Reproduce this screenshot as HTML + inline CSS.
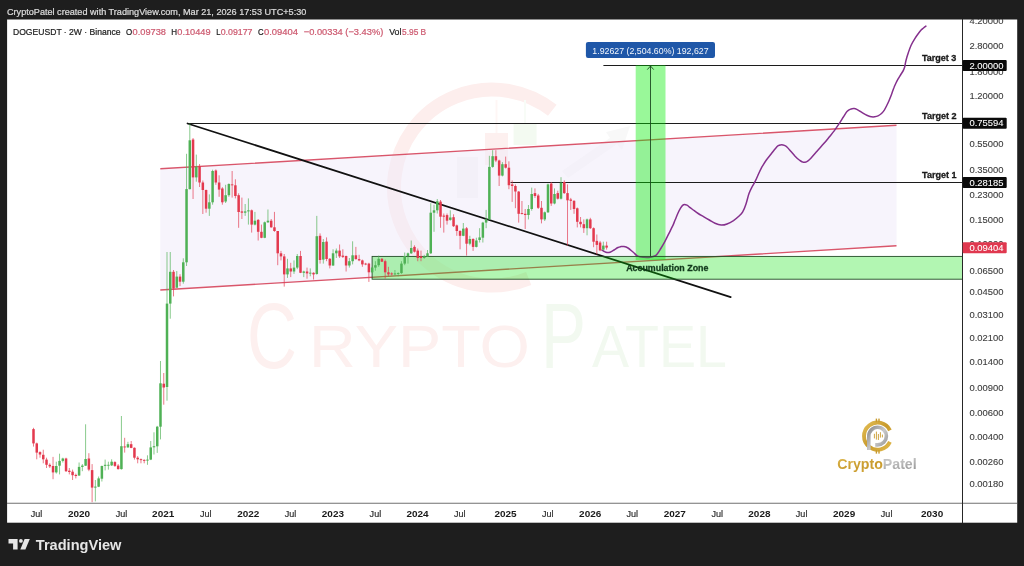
<!DOCTYPE html>
<html lang="en"><head><meta charset="utf-8"><title>DOGEUSDT 2W chart - CryptoPatel on TradingView</title>
<style>
html,body{margin:0;padding:0;background:#1e1e1e;}
body{width:1024px;height:566px;overflow:hidden;font-family:"Liberation Sans",sans-serif;}
svg{display:block;position:absolute;left:0;top:0;}
text{font-family:"Liberation Sans",sans-serif;}
</style></head><body>
<svg width="1024" height="566" viewBox="0 0 1024 566">
<defs>
<linearGradient id="gold" x1="0" y1="0" x2="1" y2="1"><stop offset="0" stop-color="#e2bd55"/><stop offset="0.5" stop-color="#c89a2c"/><stop offset="1" stop-color="#e0b84c"/></linearGradient>
<linearGradient id="silver" x1="0" y1="0" x2="1" y2="1"><stop offset="0" stop-color="#8c8c8c"/><stop offset="0.5" stop-color="#c9c9c9"/><stop offset="1" stop-color="#8f8f8f"/></linearGradient>
<clipPath id="plot"><rect x="7" y="19" width="955.5" height="484"/></clipPath>
<clipPath id="pax"><rect x="962" y="19" width="55" height="484"/></clipPath>
</defs>
<rect x="0" y="0" width="1024" height="566" fill="#1e1e1e"/>
<rect x="7.1" y="19.5" width="1010.1" height="503.2" fill="#ffffff"/>

<text x="7" y="15.2" font-size="8.8" fill="#dcdcdc" font-weight="normal" textLength="299.3" lengthAdjust="spacingAndGlyphs" stroke="#dcdcdc" stroke-width="0.22" >CryptoPatel created with TradingView.com, Mar 21, 2026 17:53 UTC+5:30</text>
<g id="watermark">
<path d="M 552.3 110.3 A 98 98 0 1 0 528.7 278.4" fill="none" stroke="#fdeeed" stroke-width="14"/>
<path d="M457 157h21v41h-21z" fill="#f6f6f6"/>
<path d="M485 133h23v32h-23z" fill="#fdf0ef"/><path d="M495.5 100h2v33h-2z" fill="#fef6f5"/>
<path d="M513.6 124h23v21h-23z" fill="#f3faf1"/><path d="M524 100h2v24h-2z" fill="#f8fcf7"/>
<path d="M562 171L610 138L606 132L630 126L622 150L617 144L568 178Z" fill="#f8f8f8"/>
<text x="247" y="367.5" font-size="92" fill="#fdf0ef" textLength="50" lengthAdjust="spacingAndGlyphs">C</text>
<text x="309" y="366.5" font-size="60" fill="#fdf0ef" textLength="221" lengthAdjust="spacingAndGlyphs">RYPTO</text>
<text x="541" y="367.5" font-size="92" fill="#f2f9f0" textLength="45" lengthAdjust="spacingAndGlyphs">P</text>
<text x="592" y="366.5" font-size="60" fill="#f2f9f0" textLength="135" lengthAdjust="spacingAndGlyphs">ATEL</text>
</g>
<g clip-path="url(#plot)">
<polygon points="160.3,168.8 896.5,125.3 896.5,245.8 160.3,290" fill="#efeaf9" fill-opacity="0.52"/>
<path d="M160.3 168.8L896.5 125.3M160.3 290L896.5 245.8" stroke="#d9566b" stroke-width="1.4" fill="none"/>
<path d="M187 123.5H962.5M510.5 182.5H962.5M603.4 65.5H962.5" stroke="#1c1c1c" stroke-width="1" fill="none"/>
<rect x="635.7" y="65.2" width="29.8" height="194.8" fill="#00ee00" fill-opacity="0.4"/>
<path d="M650.5 257.5V66M647.3 69.6L650.5 66L653.7 69.6" stroke="#1c4a20" stroke-width="0.9" fill="none"/>
<path d="M187.5 123.5L730.7 297.1" stroke="#111" stroke-width="1.75" fill="none" stroke-linecap="round"/>
<path d="M602.0 250.1C602.4 250.3 603.7 251.2 604.5 251.6C605.3 252.0 606.1 252.4 607.0 252.5C607.9 252.6 608.8 252.6 610.0 252.2C611.2 251.8 612.7 250.8 614.0 250.0C615.3 249.2 616.8 248.1 618.0 247.5C619.2 246.9 620.0 246.8 621.0 246.6C622.0 246.4 622.8 246.4 624.0 246.6C625.2 246.8 626.5 247.1 628.0 248.0C629.5 248.9 631.4 250.7 633.0 252.0C634.6 253.3 635.9 255.2 637.7 256.1C639.5 257.0 641.9 257.1 644.0 257.3C646.1 257.5 648.7 257.4 650.4 257.2C652.1 257.0 652.9 256.8 654.0 256.3C655.1 255.9 655.7 255.7 656.8 254.5C657.9 253.3 659.2 251.1 660.5 249.0C661.8 246.9 663.3 244.3 664.7 241.8C666.1 239.3 667.4 236.5 668.7 233.8C670.0 231.2 671.6 228.2 672.7 225.9C673.8 223.6 674.2 222.1 675.1 220.0C676.0 217.9 676.9 215.5 677.8 213.5C678.7 211.5 679.9 209.2 680.7 207.9C681.5 206.6 682.0 206.0 682.6 205.4C683.2 204.8 683.9 204.4 684.6 204.4C685.3 204.4 686.2 204.8 687.0 205.2C687.8 205.6 688.4 206.3 689.4 207.1C690.4 207.9 691.8 208.9 693.3 210.0C694.8 211.1 696.5 212.4 698.2 213.5C699.9 214.6 701.6 215.5 703.5 216.6C705.4 217.7 707.4 218.9 709.3 220.0C711.2 221.1 713.0 222.5 715.0 223.3C717.0 224.2 719.2 225.0 721.2 225.1C723.2 225.2 725.0 224.8 727.0 224.0C729.0 223.2 731.6 221.8 733.5 220.6C735.4 219.3 737.0 217.9 738.5 216.5C740.0 215.1 741.5 214.0 742.7 211.9C744.0 209.8 745.0 207.1 746.0 204.0C747.0 200.9 748.0 196.4 749.0 193.6C750.0 190.8 750.9 189.1 752.0 187.0C753.1 184.9 754.3 183.1 755.4 180.9C756.5 178.7 757.5 176.2 758.5 174.0C759.5 171.8 760.5 169.7 761.7 167.4C763.0 165.2 764.4 162.8 766.0 160.5C767.6 158.2 769.5 156.1 771.3 153.8C773.1 151.5 775.6 148.1 776.9 146.7C778.2 145.3 778.4 145.6 779.2 145.3C780.0 145.0 780.7 144.8 781.6 144.8C782.5 144.8 783.5 145.0 784.4 145.4C785.3 145.8 786.1 146.2 787.2 147.2C788.3 148.2 789.7 150.0 791.0 151.5C792.3 153.0 793.9 154.9 795.1 156.2C796.3 157.4 797.1 158.2 798.0 159.0C798.9 159.8 799.9 160.5 800.7 161.0C801.5 161.5 802.3 161.9 803.0 162.1C803.7 162.3 804.2 162.5 805.0 162.3C805.8 162.1 807.0 161.5 808.0 160.8C809.0 160.1 809.6 159.5 811.1 157.9C812.6 156.3 814.9 153.6 817.0 151.2C819.1 148.8 821.8 145.9 823.8 143.6C825.8 141.3 827.3 139.4 829.0 137.3C830.7 135.2 832.4 133.3 834.2 130.9C836.0 128.5 838.2 125.1 839.7 122.9C841.2 120.7 841.9 119.2 843.0 117.5C844.1 115.8 845.3 113.8 846.1 112.6C846.9 111.4 847.3 111.1 848.0 110.6C848.7 110.1 849.4 109.7 850.1 109.4C850.8 109.1 851.3 108.8 852.0 108.7C852.7 108.6 853.3 108.5 854.1 108.6C854.9 108.7 855.9 109.0 856.8 109.4C857.7 109.8 858.6 110.4 859.6 111.0C860.6 111.6 861.8 112.5 863.0 113.2C864.2 113.9 865.6 114.8 866.8 115.3C868.0 115.8 869.0 116.2 870.0 116.5C871.0 116.8 872.0 116.9 873.1 116.9C874.2 116.9 875.4 116.7 876.5 116.4C877.6 116.1 878.6 115.6 879.5 115.0C880.4 114.4 881.2 113.8 882.0 113.0C882.8 112.2 883.5 111.4 884.3 110.2C885.0 109.0 885.7 107.6 886.5 106.0C887.3 104.4 888.2 102.6 889.0 100.7C889.8 98.8 890.7 96.6 891.5 94.5C892.3 92.4 893.0 89.9 893.8 88.0C894.5 86.1 895.2 84.7 896.0 83.0C896.8 81.3 897.9 79.4 898.8 77.8C899.7 76.2 900.7 74.8 901.5 73.5C902.3 72.2 903.1 71.1 903.6 69.9C904.1 68.7 904.5 67.7 904.8 66.5C905.1 65.3 905.2 64.2 905.5 62.7C905.8 61.2 906.3 59.2 906.8 57.5C907.3 55.8 907.7 54.4 908.4 52.4C909.1 50.4 910.0 47.8 911.0 45.5C912.0 43.2 913.5 40.7 914.7 38.8C915.9 36.9 916.9 35.5 918.0 34.0C919.1 32.5 920.2 31.1 921.1 30.1C922.0 29.1 922.7 28.7 923.5 28.0C924.3 27.3 925.5 26.4 925.9 26.1" stroke="#85308d" stroke-width="1.5" fill="none" stroke-linecap="round" stroke-linejoin="round"/>
<rect x="372.1" y="256.4" width="590.4" height="22.8" fill="#00e000" fill-opacity="0.3" stroke="#234a26" stroke-width="0.9"/>
<path d="M33.50 427.8V446.6" stroke="#e3394e" stroke-width="0.8" stroke-opacity="0.85"/>
<rect x="32.25" y="429.1" width="2.5" height="14.3" fill="#e3394e"/>
<path d="M36.76 442.6V459.3" stroke="#e3394e" stroke-width="0.8" stroke-opacity="0.85"/>
<rect x="35.51" y="443.4" width="2.5" height="9.2" fill="#e3394e"/>
<path d="M40.01 451.3V457.7" stroke="#e3394e" stroke-width="0.8" stroke-opacity="0.85"/>
<rect x="38.76" y="452.1" width="2.5" height="2.4" fill="#e3394e"/>
<path d="M43.27 449.7V463.3" stroke="#e3394e" stroke-width="0.8" stroke-opacity="0.85"/>
<rect x="42.02" y="454.8" width="2.5" height="4.5" fill="#e3394e"/>
<path d="M46.52 457.7V468.0" stroke="#e3394e" stroke-width="0.8" stroke-opacity="0.85"/>
<rect x="45.27" y="459.6" width="2.5" height="5.2" fill="#e3394e"/>
<path d="M49.78 463.3V468.0" stroke="#e3394e" stroke-width="0.8" stroke-opacity="0.85"/>
<rect x="48.53" y="464.8" width="2.5" height="1.6" fill="#e3394e"/>
<path d="M53.04 456.9V479.2" stroke="#e3394e" stroke-width="0.8" stroke-opacity="0.85"/>
<rect x="51.79" y="466.0" width="2.5" height="6.4" fill="#e3394e"/>
<path d="M56.29 461.7V473.6" stroke="#4fb155" stroke-width="0.8" stroke-opacity="0.85"/>
<rect x="55.04" y="466.0" width="2.5" height="6.4" fill="#4fb155"/>
<path d="M59.55 453.7V474.4" stroke="#4fb155" stroke-width="0.8" stroke-opacity="0.85"/>
<rect x="58.30" y="460.9" width="2.5" height="4.8" fill="#4fb155"/>
<path d="M62.81 457.7V462.5" stroke="#4fb155" stroke-width="0.8" stroke-opacity="0.85"/>
<rect x="61.56" y="458.5" width="2.5" height="2.4" fill="#4fb155"/>
<path d="M66.06 457.7V472.0" stroke="#e3394e" stroke-width="0.8" stroke-opacity="0.85"/>
<rect x="64.81" y="458.5" width="2.5" height="12.7" fill="#e3394e"/>
<path d="M69.32 468.0V474.4" stroke="#e3394e" stroke-width="0.8" stroke-opacity="0.85"/>
<rect x="68.07" y="470.7" width="2.5" height="1.3" fill="#e3394e"/>
<path d="M72.58 469.6V480.0" stroke="#e3394e" stroke-width="0.8" stroke-opacity="0.85"/>
<rect x="71.33" y="471.7" width="2.5" height="3.5" fill="#e3394e"/>
<path d="M75.83 473.6V478.4" stroke="#e3394e" stroke-width="0.8" stroke-opacity="0.85"/>
<rect x="74.58" y="474.9" width="2.5" height="1.1" fill="#e3394e"/>
<path d="M79.09 462.5V476.0" stroke="#4fb155" stroke-width="0.8" stroke-opacity="0.85"/>
<rect x="77.84" y="466.9" width="2.5" height="8.6" fill="#4fb155"/>
<path d="M82.34 464.1V471.2" stroke="#4fb155" stroke-width="0.8" stroke-opacity="0.85"/>
<rect x="81.09" y="465.6" width="2.5" height="1.3" fill="#4fb155"/>
<path d="M85.60 424.3V466.0" stroke="#4fb155" stroke-width="0.8" stroke-opacity="0.85"/>
<rect x="84.35" y="459.0" width="2.5" height="6.7" fill="#4fb155"/>
<path d="M88.86 453.2V471.2" stroke="#e3394e" stroke-width="0.8" stroke-opacity="0.85"/>
<rect x="87.61" y="458.5" width="2.5" height="11.1" fill="#e3394e"/>
<path d="M92.11 464.1V502.2" stroke="#e3394e" stroke-width="0.8" stroke-opacity="0.85"/>
<rect x="90.86" y="470.1" width="2.5" height="17.5" fill="#e3394e"/>
<path d="M95.37 480.0V501.4" stroke="#4fb155" stroke-width="0.8" stroke-opacity="0.85"/>
<rect x="94.12" y="486.6" width="2.5" height="1.0" fill="#4fb155"/>
<path d="M98.62 476.5V487.1" stroke="#4fb155" stroke-width="0.8" stroke-opacity="0.85"/>
<rect x="97.38" y="478.4" width="2.5" height="8.3" fill="#4fb155"/>
<path d="M101.88 465.6V481.5" stroke="#4fb155" stroke-width="0.8" stroke-opacity="0.85"/>
<rect x="100.63" y="466.0" width="2.5" height="12.7" fill="#4fb155"/>
<path d="M105.14 459.6V470.4" stroke="#4fb155" stroke-width="0.8" stroke-opacity="0.85"/>
<rect x="103.89" y="464.8" width="2.5" height="1.1" fill="#4fb155"/>
<path d="M108.39 461.7V469.6" stroke="#4fb155" stroke-width="0.8" stroke-opacity="0.85"/>
<rect x="107.14" y="464.8" width="2.5" height="0.9" fill="#4fb155"/>
<path d="M111.65 459.3V466.0" stroke="#4fb155" stroke-width="0.8" stroke-opacity="0.85"/>
<rect x="110.40" y="461.7" width="2.5" height="3.7" fill="#4fb155"/>
<path d="M114.91 461.2V466.9" stroke="#e3394e" stroke-width="0.8" stroke-opacity="0.85"/>
<rect x="113.66" y="462.1" width="2.5" height="3.8" fill="#e3394e"/>
<path d="M118.16 464.1V469.6" stroke="#e3394e" stroke-width="0.8" stroke-opacity="0.85"/>
<rect x="116.91" y="465.6" width="2.5" height="3.5" fill="#e3394e"/>
<path d="M121.42 416.0V469.6" stroke="#4fb155" stroke-width="0.8" stroke-opacity="0.85"/>
<rect x="120.17" y="446.2" width="2.5" height="22.9" fill="#4fb155"/>
<path d="M124.67 437.8V452.6" stroke="#e3394e" stroke-width="0.8" stroke-opacity="0.85"/>
<rect x="123.42" y="446.5" width="2.5" height="0.9" fill="#e3394e"/>
<path d="M127.93 441.8V447.8" stroke="#4fb155" stroke-width="0.8" stroke-opacity="0.85"/>
<rect x="126.68" y="444.2" width="2.5" height="3.2" fill="#4fb155"/>
<path d="M131.19 441.0V448.2" stroke="#e3394e" stroke-width="0.8" stroke-opacity="0.85"/>
<rect x="129.94" y="444.2" width="2.5" height="3.7" fill="#e3394e"/>
<path d="M134.44 447.4V459.6" stroke="#e3394e" stroke-width="0.8" stroke-opacity="0.85"/>
<rect x="133.19" y="447.8" width="2.5" height="9.9" fill="#e3394e"/>
<path d="M137.70 456.1V463.3" stroke="#e3394e" stroke-width="0.8" stroke-opacity="0.85"/>
<rect x="136.45" y="457.7" width="2.5" height="1.6" fill="#e3394e"/>
<path d="M140.96 458.5V463.3" stroke="#e3394e" stroke-width="0.8" stroke-opacity="0.85"/>
<rect x="139.71" y="459.2" width="2.5" height="0.9" fill="#e3394e"/>
<path d="M144.21 459.3V463.3" stroke="#e3394e" stroke-width="0.8" stroke-opacity="0.85"/>
<rect x="142.96" y="459.9" width="2.5" height="0.9" fill="#e3394e"/>
<path d="M147.47 455.3V464.8" stroke="#4fb155" stroke-width="0.8" stroke-opacity="0.85"/>
<rect x="146.22" y="459.6" width="2.5" height="1.0" fill="#4fb155"/>
<path d="M150.73 441.0V460.1" stroke="#4fb155" stroke-width="0.8" stroke-opacity="0.85"/>
<rect x="149.48" y="447.4" width="2.5" height="12.2" fill="#4fb155"/>
<path d="M153.98 432.3V454.5" stroke="#4fb155" stroke-width="0.8" stroke-opacity="0.85"/>
<rect x="152.73" y="446.2" width="2.5" height="1.1" fill="#4fb155"/>
<path d="M157.24 425.9V452.9" stroke="#4fb155" stroke-width="0.8" stroke-opacity="0.85"/>
<rect x="155.99" y="426.7" width="2.5" height="19.6" fill="#4fb155"/>
<path d="M160.49 361.0V439.4" stroke="#4fb155" stroke-width="0.8" stroke-opacity="0.85"/>
<rect x="159.24" y="383.3" width="2.5" height="43.4" fill="#4fb155"/>
<path d="M163.75 373.0V404.7" stroke="#e3394e" stroke-width="0.8" stroke-opacity="0.85"/>
<rect x="162.50" y="383.7" width="2.5" height="3.8" fill="#e3394e"/>
<path d="M167.01 252.0V400.7" stroke="#4fb155" stroke-width="0.8" stroke-opacity="0.85"/>
<rect x="165.76" y="303.6" width="2.5" height="83.4" fill="#4fb155"/>
<path d="M170.26 252.0V318.7" stroke="#4fb155" stroke-width="0.8" stroke-opacity="0.85"/>
<rect x="169.01" y="271.8" width="2.5" height="31.8" fill="#4fb155"/>
<path d="M173.52 270.0V296.4" stroke="#e3394e" stroke-width="0.8" stroke-opacity="0.85"/>
<rect x="172.27" y="271.8" width="2.5" height="16.7" fill="#e3394e"/>
<path d="M176.78 271.0V287.7" stroke="#4fb155" stroke-width="0.8" stroke-opacity="0.85"/>
<rect x="175.53" y="276.6" width="2.5" height="11.1" fill="#4fb155"/>
<path d="M180.03 274.2V286.1" stroke="#e3394e" stroke-width="0.8" stroke-opacity="0.85"/>
<rect x="178.78" y="276.6" width="2.5" height="5.1" fill="#e3394e"/>
<path d="M183.29 258.3V283.7" stroke="#4fb155" stroke-width="0.8" stroke-opacity="0.85"/>
<rect x="182.04" y="262.3" width="2.5" height="19.4" fill="#4fb155"/>
<path d="M186.54 153.8V266.0" stroke="#4fb155" stroke-width="0.8" stroke-opacity="0.85"/>
<rect x="185.29" y="189.1" width="2.5" height="73.2" fill="#4fb155"/>
<path d="M189.80 123.5V189.5" stroke="#4fb155" stroke-width="0.8" stroke-opacity="0.85"/>
<rect x="188.55" y="140.3" width="2.5" height="48.8" fill="#4fb155"/>
<path d="M193.06 138.0V199.0" stroke="#e3394e" stroke-width="0.8" stroke-opacity="0.85"/>
<rect x="191.81" y="139.5" width="2.5" height="37.9" fill="#e3394e"/>
<path d="M196.31 154.6V181.7" stroke="#4fb155" stroke-width="0.8" stroke-opacity="0.85"/>
<rect x="195.06" y="166.6" width="2.5" height="10.8" fill="#4fb155"/>
<path d="M199.57 164.0V187.0" stroke="#e3394e" stroke-width="0.8" stroke-opacity="0.85"/>
<rect x="198.32" y="166.2" width="2.5" height="16.3" fill="#e3394e"/>
<path d="M202.83 180.5V214.0" stroke="#e3394e" stroke-width="0.8" stroke-opacity="0.85"/>
<rect x="201.58" y="182.5" width="2.5" height="7.5" fill="#e3394e"/>
<path d="M206.08 189.6V212.7" stroke="#e3394e" stroke-width="0.8" stroke-opacity="0.85"/>
<rect x="204.83" y="190.0" width="2.5" height="18.7" fill="#e3394e"/>
<path d="M209.34 194.4V215.9" stroke="#4fb155" stroke-width="0.8" stroke-opacity="0.85"/>
<rect x="208.09" y="202.3" width="2.5" height="6.4" fill="#4fb155"/>
<path d="M212.59 169.7V204.7" stroke="#4fb155" stroke-width="0.8" stroke-opacity="0.85"/>
<rect x="211.34" y="171.0" width="2.5" height="31.3" fill="#4fb155"/>
<path d="M215.85 169.4V184.8" stroke="#e3394e" stroke-width="0.8" stroke-opacity="0.85"/>
<rect x="214.60" y="170.5" width="2.5" height="12.0" fill="#e3394e"/>
<path d="M219.11 175.3V196.8" stroke="#e3394e" stroke-width="0.8" stroke-opacity="0.85"/>
<rect x="217.86" y="182.5" width="2.5" height="7.1" fill="#e3394e"/>
<path d="M222.36 187.2V204.7" stroke="#e3394e" stroke-width="0.8" stroke-opacity="0.85"/>
<rect x="221.11" y="188.5" width="2.5" height="13.8" fill="#e3394e"/>
<path d="M225.62 184.8V203.0" stroke="#4fb155" stroke-width="0.8" stroke-opacity="0.85"/>
<rect x="224.37" y="195.2" width="2.5" height="6.3" fill="#4fb155"/>
<path d="M228.88 183.3V196.8" stroke="#4fb155" stroke-width="0.8" stroke-opacity="0.85"/>
<rect x="227.62" y="184.0" width="2.5" height="11.2" fill="#4fb155"/>
<path d="M232.13 171.0V197.6" stroke="#e3394e" stroke-width="0.8" stroke-opacity="0.85"/>
<rect x="230.88" y="184.4" width="2.5" height="0.9" fill="#e3394e"/>
<path d="M235.39 179.3V198.4" stroke="#e3394e" stroke-width="0.8" stroke-opacity="0.85"/>
<rect x="234.14" y="185.3" width="2.5" height="10.7" fill="#e3394e"/>
<path d="M238.64 193.3V227.8" stroke="#e3394e" stroke-width="0.8" stroke-opacity="0.85"/>
<rect x="237.39" y="195.2" width="2.5" height="16.8" fill="#e3394e"/>
<path d="M241.90 197.6V219.0" stroke="#e3394e" stroke-width="0.8" stroke-opacity="0.85"/>
<rect x="240.65" y="211.4" width="2.5" height="1.3" fill="#e3394e"/>
<path d="M245.16 204.0V215.9" stroke="#4fb155" stroke-width="0.8" stroke-opacity="0.85"/>
<rect x="243.91" y="211.4" width="2.5" height="1.3" fill="#4fb155"/>
<path d="M248.41 198.4V224.6" stroke="#4fb155" stroke-width="0.8" stroke-opacity="0.85"/>
<rect x="247.16" y="210.3" width="2.5" height="1.1" fill="#4fb155"/>
<path d="M251.67 209.5V232.6" stroke="#e3394e" stroke-width="0.8" stroke-opacity="0.85"/>
<rect x="250.42" y="210.3" width="2.5" height="14.3" fill="#e3394e"/>
<path d="M254.93 211.9V225.4" stroke="#4fb155" stroke-width="0.8" stroke-opacity="0.85"/>
<rect x="253.68" y="220.7" width="2.5" height="3.9" fill="#4fb155"/>
<path d="M258.18 219.0V240.5" stroke="#e3394e" stroke-width="0.8" stroke-opacity="0.85"/>
<rect x="256.93" y="219.9" width="2.5" height="11.9" fill="#e3394e"/>
<path d="M261.44 224.6V238.2" stroke="#e3394e" stroke-width="0.8" stroke-opacity="0.85"/>
<rect x="260.19" y="231.8" width="2.5" height="6.0" fill="#e3394e"/>
<path d="M264.69 221.5V238.2" stroke="#4fb155" stroke-width="0.8" stroke-opacity="0.85"/>
<rect x="263.44" y="222.3" width="2.5" height="15.5" fill="#4fb155"/>
<path d="M267.95 209.5V223.0" stroke="#4fb155" stroke-width="0.8" stroke-opacity="0.85"/>
<rect x="266.70" y="220.7" width="2.5" height="1.6" fill="#4fb155"/>
<path d="M271.21 219.0V227.8" stroke="#e3394e" stroke-width="0.8" stroke-opacity="0.85"/>
<rect x="269.96" y="220.7" width="2.5" height="6.6" fill="#e3394e"/>
<path d="M274.46 211.9V231.8" stroke="#e3394e" stroke-width="0.8" stroke-opacity="0.85"/>
<rect x="273.21" y="227.3" width="2.5" height="3.7" fill="#e3394e"/>
<path d="M277.72 231.0V265.2" stroke="#e3394e" stroke-width="0.8" stroke-opacity="0.85"/>
<rect x="276.47" y="231.0" width="2.5" height="22.3" fill="#e3394e"/>
<path d="M280.98 250.9V260.4" stroke="#e3394e" stroke-width="0.8" stroke-opacity="0.85"/>
<rect x="279.73" y="253.3" width="2.5" height="3.1" fill="#e3394e"/>
<path d="M284.23 254.0V286.6" stroke="#e3394e" stroke-width="0.8" stroke-opacity="0.85"/>
<rect x="282.98" y="256.4" width="2.5" height="18.0" fill="#e3394e"/>
<path d="M287.49 258.8V277.9" stroke="#4fb155" stroke-width="0.8" stroke-opacity="0.85"/>
<rect x="286.24" y="268.4" width="2.5" height="6.0" fill="#4fb155"/>
<path d="M290.74 262.8V277.1" stroke="#e3394e" stroke-width="0.8" stroke-opacity="0.85"/>
<rect x="289.49" y="268.4" width="2.5" height="3.1" fill="#e3394e"/>
<path d="M294.00 260.4V273.9" stroke="#4fb155" stroke-width="0.8" stroke-opacity="0.85"/>
<rect x="292.75" y="267.6" width="2.5" height="3.9" fill="#4fb155"/>
<path d="M297.26 254.0V269.2" stroke="#4fb155" stroke-width="0.8" stroke-opacity="0.85"/>
<rect x="296.01" y="256.0" width="2.5" height="11.6" fill="#4fb155"/>
<path d="M300.51 250.9V273.1" stroke="#e3394e" stroke-width="0.8" stroke-opacity="0.85"/>
<rect x="299.26" y="256.0" width="2.5" height="16.8" fill="#e3394e"/>
<path d="M303.77 270.7V277.1" stroke="#4fb155" stroke-width="0.8" stroke-opacity="0.85"/>
<rect x="302.52" y="271.5" width="2.5" height="1.3" fill="#4fb155"/>
<path d="M307.03 267.6V278.7" stroke="#e3394e" stroke-width="0.8" stroke-opacity="0.85"/>
<rect x="305.78" y="271.5" width="2.5" height="1.9" fill="#e3394e"/>
<path d="M310.28 268.4V276.3" stroke="#4fb155" stroke-width="0.8" stroke-opacity="0.85"/>
<rect x="309.03" y="272.7" width="2.5" height="0.9" fill="#4fb155"/>
<path d="M313.54 272.3V279.5" stroke="#e3394e" stroke-width="0.8" stroke-opacity="0.85"/>
<rect x="312.29" y="272.8" width="2.5" height="1.6" fill="#e3394e"/>
<path d="M316.79 215.9V274.7" stroke="#4fb155" stroke-width="0.8" stroke-opacity="0.85"/>
<rect x="315.54" y="236.2" width="2.5" height="37.8" fill="#4fb155"/>
<path d="M320.05 233.4V263.6" stroke="#e3394e" stroke-width="0.8" stroke-opacity="0.85"/>
<rect x="318.80" y="235.8" width="2.5" height="24.2" fill="#e3394e"/>
<path d="M323.31 239.0V263.6" stroke="#4fb155" stroke-width="0.8" stroke-opacity="0.85"/>
<rect x="322.06" y="242.0" width="2.5" height="17.6" fill="#4fb155"/>
<path d="M326.56 237.4V261.2" stroke="#e3394e" stroke-width="0.8" stroke-opacity="0.85"/>
<rect x="325.31" y="241.6" width="2.5" height="17.4" fill="#e3394e"/>
<path d="M329.82 258.0V268.4" stroke="#e3394e" stroke-width="0.8" stroke-opacity="0.85"/>
<rect x="328.57" y="258.8" width="2.5" height="6.7" fill="#e3394e"/>
<path d="M333.07 249.3V266.0" stroke="#4fb155" stroke-width="0.8" stroke-opacity="0.85"/>
<rect x="331.82" y="253.3" width="2.5" height="12.2" fill="#4fb155"/>
<path d="M336.33 248.5V258.0" stroke="#4fb155" stroke-width="0.8" stroke-opacity="0.85"/>
<rect x="335.08" y="250.6" width="2.5" height="2.7" fill="#4fb155"/>
<path d="M339.59 244.5V258.0" stroke="#e3394e" stroke-width="0.8" stroke-opacity="0.85"/>
<rect x="338.34" y="250.6" width="2.5" height="5.8" fill="#e3394e"/>
<path d="M342.84 249.3V258.0" stroke="#e3394e" stroke-width="0.8" stroke-opacity="0.85"/>
<rect x="341.59" y="255.6" width="2.5" height="1.3" fill="#e3394e"/>
<path d="M346.10 255.6V271.5" stroke="#e3394e" stroke-width="0.8" stroke-opacity="0.85"/>
<rect x="344.85" y="256.0" width="2.5" height="9.5" fill="#e3394e"/>
<path d="M349.36 258.0V267.6" stroke="#4fb155" stroke-width="0.8" stroke-opacity="0.85"/>
<rect x="348.11" y="261.2" width="2.5" height="4.3" fill="#4fb155"/>
<path d="M352.61 241.3V264.4" stroke="#4fb155" stroke-width="0.8" stroke-opacity="0.85"/>
<rect x="351.36" y="255.3" width="2.5" height="5.9" fill="#4fb155"/>
<path d="M355.87 246.9V259.6" stroke="#e3394e" stroke-width="0.8" stroke-opacity="0.85"/>
<rect x="354.62" y="255.3" width="2.5" height="3.8" fill="#e3394e"/>
<path d="M359.12 254.8V261.2" stroke="#e3394e" stroke-width="0.8" stroke-opacity="0.85"/>
<rect x="357.88" y="259.1" width="2.5" height="1.3" fill="#e3394e"/>
<path d="M362.38 259.6V266.8" stroke="#e3394e" stroke-width="0.8" stroke-opacity="0.85"/>
<rect x="361.13" y="260.4" width="2.5" height="4.0" fill="#e3394e"/>
<path d="M365.64 262.8V265.2" stroke="#e3394e" stroke-width="0.8" stroke-opacity="0.85"/>
<rect x="364.39" y="263.6" width="2.5" height="0.9" fill="#e3394e"/>
<path d="M368.89 262.8V281.9" stroke="#e3394e" stroke-width="0.8" stroke-opacity="0.85"/>
<rect x="367.64" y="263.6" width="2.5" height="8.7" fill="#e3394e"/>
<path d="M372.15 266.8V273.1" stroke="#4fb155" stroke-width="0.8" stroke-opacity="0.85"/>
<rect x="370.90" y="267.6" width="2.5" height="4.7" fill="#4fb155"/>
<path d="M375.41 261.2V270.7" stroke="#4fb155" stroke-width="0.8" stroke-opacity="0.85"/>
<rect x="374.16" y="265.2" width="2.5" height="2.4" fill="#4fb155"/>
<path d="M378.66 255.6V266.8" stroke="#4fb155" stroke-width="0.8" stroke-opacity="0.85"/>
<rect x="377.41" y="258.8" width="2.5" height="6.4" fill="#4fb155"/>
<path d="M381.92 258.0V262.0" stroke="#e3394e" stroke-width="0.8" stroke-opacity="0.85"/>
<rect x="380.67" y="258.8" width="2.5" height="2.9" fill="#e3394e"/>
<path d="M385.18 259.6V278.7" stroke="#e3394e" stroke-width="0.8" stroke-opacity="0.85"/>
<rect x="383.93" y="261.2" width="2.5" height="11.1" fill="#e3394e"/>
<path d="M388.43 266.8V276.0" stroke="#e3394e" stroke-width="0.8" stroke-opacity="0.85"/>
<rect x="387.18" y="272.3" width="2.5" height="2.1" fill="#e3394e"/>
<path d="M391.69 272.3V275.5" stroke="#e3394e" stroke-width="0.8" stroke-opacity="0.85"/>
<rect x="390.44" y="273.4" width="2.5" height="1.0" fill="#e3394e"/>
<path d="M394.94 270.0V275.5" stroke="#4fb155" stroke-width="0.8" stroke-opacity="0.85"/>
<rect x="393.69" y="273.4" width="2.5" height="1.0" fill="#4fb155"/>
<path d="M398.20 272.3V276.3" stroke="#4fb155" stroke-width="0.8" stroke-opacity="0.85"/>
<rect x="396.95" y="273.1" width="2.5" height="0.9" fill="#4fb155"/>
<path d="M401.46 261.2V273.9" stroke="#4fb155" stroke-width="0.8" stroke-opacity="0.85"/>
<rect x="400.21" y="263.6" width="2.5" height="9.5" fill="#4fb155"/>
<path d="M404.71 252.5V265.2" stroke="#4fb155" stroke-width="0.8" stroke-opacity="0.85"/>
<rect x="403.46" y="256.0" width="2.5" height="7.6" fill="#4fb155"/>
<path d="M407.97 252.5V263.6" stroke="#4fb155" stroke-width="0.8" stroke-opacity="0.85"/>
<rect x="406.72" y="253.3" width="2.5" height="2.7" fill="#4fb155"/>
<path d="M411.23 240.5V254.0" stroke="#4fb155" stroke-width="0.8" stroke-opacity="0.85"/>
<rect x="409.98" y="248.0" width="2.5" height="5.3" fill="#4fb155"/>
<path d="M414.48 245.3V252.5" stroke="#e3394e" stroke-width="0.8" stroke-opacity="0.85"/>
<rect x="413.23" y="246.9" width="2.5" height="4.8" fill="#e3394e"/>
<path d="M417.74 248.5V261.2" stroke="#e3394e" stroke-width="0.8" stroke-opacity="0.85"/>
<rect x="416.49" y="250.6" width="2.5" height="7.4" fill="#e3394e"/>
<path d="M420.99 250.6V261.2" stroke="#e3394e" stroke-width="0.8" stroke-opacity="0.85"/>
<rect x="419.74" y="256.4" width="2.5" height="1.6" fill="#e3394e"/>
<path d="M424.25 254.8V258.8" stroke="#4fb155" stroke-width="0.8" stroke-opacity="0.85"/>
<rect x="423.00" y="256.4" width="2.5" height="1.6" fill="#4fb155"/>
<path d="M427.51 250.0V256.9" stroke="#4fb155" stroke-width="0.8" stroke-opacity="0.85"/>
<rect x="426.26" y="253.3" width="2.5" height="3.1" fill="#4fb155"/>
<path d="M430.76 203.2V254.0" stroke="#4fb155" stroke-width="0.8" stroke-opacity="0.85"/>
<rect x="429.51" y="212.7" width="2.5" height="40.6" fill="#4fb155"/>
<path d="M434.02 204.8V231.8" stroke="#4fb155" stroke-width="0.8" stroke-opacity="0.85"/>
<rect x="432.77" y="210.3" width="2.5" height="2.4" fill="#4fb155"/>
<path d="M437.28 199.0V213.5" stroke="#4fb155" stroke-width="0.8" stroke-opacity="0.85"/>
<rect x="436.03" y="201.3" width="2.5" height="9.0" fill="#4fb155"/>
<path d="M440.53 200.0V227.8" stroke="#e3394e" stroke-width="0.8" stroke-opacity="0.85"/>
<rect x="439.28" y="201.6" width="2.5" height="15.1" fill="#e3394e"/>
<path d="M443.79 213.5V232.6" stroke="#e3394e" stroke-width="0.8" stroke-opacity="0.85"/>
<rect x="442.54" y="215.6" width="2.5" height="1.1" fill="#e3394e"/>
<path d="M447.04 213.5V224.6" stroke="#e3394e" stroke-width="0.8" stroke-opacity="0.85"/>
<rect x="445.79" y="215.1" width="2.5" height="5.6" fill="#e3394e"/>
<path d="M450.30 210.3V220.7" stroke="#4fb155" stroke-width="0.8" stroke-opacity="0.85"/>
<rect x="449.05" y="217.5" width="2.5" height="2.4" fill="#4fb155"/>
<path d="M453.56 214.3V227.0" stroke="#e3394e" stroke-width="0.8" stroke-opacity="0.85"/>
<rect x="452.31" y="217.2" width="2.5" height="9.0" fill="#e3394e"/>
<path d="M456.81 224.6V235.8" stroke="#e3394e" stroke-width="0.8" stroke-opacity="0.85"/>
<rect x="455.56" y="225.4" width="2.5" height="5.6" fill="#e3394e"/>
<path d="M460.07 230.2V249.3" stroke="#e3394e" stroke-width="0.8" stroke-opacity="0.85"/>
<rect x="458.82" y="231.0" width="2.5" height="4.8" fill="#e3394e"/>
<path d="M463.32 223.0V236.2" stroke="#4fb155" stroke-width="0.8" stroke-opacity="0.85"/>
<rect x="462.07" y="228.6" width="2.5" height="7.2" fill="#4fb155"/>
<path d="M466.58 227.0V255.6" stroke="#e3394e" stroke-width="0.8" stroke-opacity="0.85"/>
<rect x="465.33" y="228.3" width="2.5" height="15.4" fill="#e3394e"/>
<path d="M469.84 235.8V245.3" stroke="#4fb155" stroke-width="0.8" stroke-opacity="0.85"/>
<rect x="468.59" y="239.0" width="2.5" height="4.7" fill="#4fb155"/>
<path d="M473.09 238.2V250.9" stroke="#e3394e" stroke-width="0.8" stroke-opacity="0.85"/>
<rect x="471.84" y="239.0" width="2.5" height="7.9" fill="#e3394e"/>
<path d="M476.35 237.7V247.4" stroke="#4fb155" stroke-width="0.8" stroke-opacity="0.85"/>
<rect x="475.10" y="240.5" width="2.5" height="6.4" fill="#4fb155"/>
<path d="M479.61 228.2V242.5" stroke="#4fb155" stroke-width="0.8" stroke-opacity="0.85"/>
<rect x="478.36" y="237.4" width="2.5" height="2.6" fill="#4fb155"/>
<path d="M482.86 221.8V242.5" stroke="#4fb155" stroke-width="0.8" stroke-opacity="0.85"/>
<rect x="481.61" y="222.6" width="2.5" height="15.1" fill="#4fb155"/>
<path d="M486.12 209.9V228.2" stroke="#4fb155" stroke-width="0.8" stroke-opacity="0.85"/>
<rect x="484.87" y="219.4" width="2.5" height="3.2" fill="#4fb155"/>
<path d="M489.38 155.8V220.0" stroke="#4fb155" stroke-width="0.8" stroke-opacity="0.85"/>
<rect x="488.12" y="166.9" width="2.5" height="52.5" fill="#4fb155"/>
<path d="M492.63 150.2V167.7" stroke="#4fb155" stroke-width="0.8" stroke-opacity="0.85"/>
<rect x="491.38" y="156.2" width="2.5" height="10.7" fill="#4fb155"/>
<path d="M495.89 150.2V162.1" stroke="#e3394e" stroke-width="0.8" stroke-opacity="0.85"/>
<rect x="494.64" y="156.2" width="2.5" height="4.3" fill="#e3394e"/>
<path d="M499.14 159.7V186.0" stroke="#e3394e" stroke-width="0.8" stroke-opacity="0.85"/>
<rect x="497.89" y="160.5" width="2.5" height="15.1" fill="#e3394e"/>
<path d="M502.40 162.1V176.4" stroke="#4fb155" stroke-width="0.8" stroke-opacity="0.85"/>
<rect x="501.15" y="164.2" width="2.5" height="11.4" fill="#4fb155"/>
<path d="M505.66 156.6V168.5" stroke="#e3394e" stroke-width="0.8" stroke-opacity="0.85"/>
<rect x="504.41" y="164.2" width="2.5" height="3.5" fill="#e3394e"/>
<path d="M508.91 161.3V189.2" stroke="#e3394e" stroke-width="0.8" stroke-opacity="0.85"/>
<rect x="507.66" y="167.7" width="2.5" height="17.5" fill="#e3394e"/>
<path d="M512.17 180.4V201.9" stroke="#e3394e" stroke-width="0.8" stroke-opacity="0.85"/>
<rect x="510.92" y="184.4" width="2.5" height="1.6" fill="#e3394e"/>
<path d="M515.42 184.4V208.2" stroke="#e3394e" stroke-width="0.8" stroke-opacity="0.85"/>
<rect x="514.17" y="186.0" width="2.5" height="5.5" fill="#e3394e"/>
<path d="M518.68 191.0V222.6" stroke="#e3394e" stroke-width="0.8" stroke-opacity="0.85"/>
<rect x="517.43" y="191.6" width="2.5" height="22.2" fill="#e3394e"/>
<path d="M521.94 201.0V214.5" stroke="#e3394e" stroke-width="0.8" stroke-opacity="0.85"/>
<rect x="520.69" y="213.0" width="2.5" height="0.9" fill="#e3394e"/>
<path d="M525.19 209.0V229.0" stroke="#e3394e" stroke-width="0.8" stroke-opacity="0.85"/>
<rect x="523.94" y="213.8" width="2.5" height="1.2" fill="#e3394e"/>
<path d="M528.45 205.0V219.4" stroke="#4fb155" stroke-width="0.8" stroke-opacity="0.85"/>
<rect x="527.20" y="209.0" width="2.5" height="6.0" fill="#4fb155"/>
<path d="M531.71 187.6V210.7" stroke="#4fb155" stroke-width="0.8" stroke-opacity="0.85"/>
<rect x="530.46" y="194.0" width="2.5" height="15.0" fill="#4fb155"/>
<path d="M534.96 188.4V197.9" stroke="#e3394e" stroke-width="0.8" stroke-opacity="0.85"/>
<rect x="533.71" y="193.1" width="2.5" height="2.9" fill="#e3394e"/>
<path d="M538.22 193.9V209.0" stroke="#e3394e" stroke-width="0.8" stroke-opacity="0.85"/>
<rect x="536.97" y="195.5" width="2.5" height="12.3" fill="#e3394e"/>
<path d="M541.48 201.0V223.4" stroke="#e3394e" stroke-width="0.8" stroke-opacity="0.85"/>
<rect x="540.23" y="207.8" width="2.5" height="11.6" fill="#e3394e"/>
<path d="M544.73 211.5V221.0" stroke="#4fb155" stroke-width="0.8" stroke-opacity="0.85"/>
<rect x="543.48" y="212.3" width="2.5" height="7.1" fill="#4fb155"/>
<path d="M547.99 183.6V213.0" stroke="#4fb155" stroke-width="0.8" stroke-opacity="0.85"/>
<rect x="546.74" y="184.4" width="2.5" height="27.9" fill="#4fb155"/>
<path d="M551.24 182.0V205.9" stroke="#e3394e" stroke-width="0.8" stroke-opacity="0.85"/>
<rect x="549.99" y="183.6" width="2.5" height="19.9" fill="#e3394e"/>
<path d="M554.50 188.4V204.3" stroke="#4fb155" stroke-width="0.8" stroke-opacity="0.85"/>
<rect x="553.25" y="194.0" width="2.5" height="9.5" fill="#4fb155"/>
<path d="M557.76 190.7V199.5" stroke="#e3394e" stroke-width="0.8" stroke-opacity="0.85"/>
<rect x="556.51" y="193.1" width="2.5" height="5.6" fill="#e3394e"/>
<path d="M561.01 177.2V199.5" stroke="#4fb155" stroke-width="0.8" stroke-opacity="0.85"/>
<rect x="559.76" y="182.8" width="2.5" height="15.9" fill="#4fb155"/>
<path d="M564.27 180.4V194.0" stroke="#e3394e" stroke-width="0.8" stroke-opacity="0.85"/>
<rect x="563.02" y="182.0" width="2.5" height="11.1" fill="#e3394e"/>
<path d="M567.52 184.4V245.6" stroke="#e3394e" stroke-width="0.8" stroke-opacity="0.85"/>
<rect x="566.27" y="193.1" width="2.5" height="7.2" fill="#e3394e"/>
<path d="M570.78 197.9V209.9" stroke="#e3394e" stroke-width="0.8" stroke-opacity="0.85"/>
<rect x="569.53" y="199.5" width="2.5" height="1.3" fill="#e3394e"/>
<path d="M574.04 200.3V213.8" stroke="#e3394e" stroke-width="0.8" stroke-opacity="0.85"/>
<rect x="572.79" y="200.8" width="2.5" height="8.2" fill="#e3394e"/>
<path d="M577.29 207.5V227.4" stroke="#e3394e" stroke-width="0.8" stroke-opacity="0.85"/>
<rect x="576.04" y="208.3" width="2.5" height="13.5" fill="#e3394e"/>
<path d="M580.55 217.0V227.4" stroke="#e3394e" stroke-width="0.8" stroke-opacity="0.85"/>
<rect x="579.30" y="221.8" width="2.5" height="2.4" fill="#e3394e"/>
<path d="M583.81 219.4V232.9" stroke="#e3394e" stroke-width="0.8" stroke-opacity="0.85"/>
<rect x="582.56" y="224.2" width="2.5" height="4.0" fill="#e3394e"/>
<path d="M587.06 218.6V235.3" stroke="#4fb155" stroke-width="0.8" stroke-opacity="0.85"/>
<rect x="585.81" y="219.4" width="2.5" height="8.8" fill="#4fb155"/>
<path d="M590.32 217.8V229.0" stroke="#e3394e" stroke-width="0.8" stroke-opacity="0.85"/>
<rect x="589.07" y="219.4" width="2.5" height="8.8" fill="#e3394e"/>
<path d="M593.58 227.4V247.2" stroke="#e3394e" stroke-width="0.8" stroke-opacity="0.85"/>
<rect x="592.33" y="228.2" width="2.5" height="13.5" fill="#e3394e"/>
<path d="M596.83 234.5V254.4" stroke="#e3394e" stroke-width="0.8" stroke-opacity="0.85"/>
<rect x="595.58" y="240.9" width="2.5" height="4.0" fill="#e3394e"/>
<path d="M600.09 240.9V251.2" stroke="#e3394e" stroke-width="0.8" stroke-opacity="0.85"/>
<rect x="598.84" y="242.5" width="2.5" height="7.9" fill="#e3394e"/>
<path d="M603.34 241.7V250.4" stroke="#4fb155" stroke-width="0.8" stroke-opacity="0.85"/>
<rect x="602.09" y="245.6" width="2.5" height="4.0" fill="#4fb155"/>
<path d="M606.60 241.7V249.6" stroke="#e3394e" stroke-width="0.8" stroke-opacity="0.85"/>
<rect x="605.35" y="245.6" width="2.5" height="2.0" fill="#e3394e"/>
</g>
<text x="626.2" y="271.2" font-size="9" fill="#123a1c" font-weight="bold" textLength="82.2" lengthAdjust="spacingAndGlyphs" stroke="#123a1c" stroke-width="0.3" >Accumulation Zone</text>
<text x="921.9" y="61.1" font-size="9" fill="#1a1a1a" font-weight="bold" textLength="34.5" lengthAdjust="spacingAndGlyphs" stroke="#1a1a1a" stroke-width="0.3" >Target 3</text>
<text x="922.1" y="119.4" font-size="9" fill="#1a1a1a" font-weight="bold" textLength="34.5" lengthAdjust="spacingAndGlyphs" stroke="#1a1a1a" stroke-width="0.3" >Target 2</text>
<text x="922.1" y="178.1" font-size="9" fill="#1a1a1a" font-weight="bold" textLength="34.5" lengthAdjust="spacingAndGlyphs" stroke="#1a1a1a" stroke-width="0.3" >Target 1</text>
<rect x="585.9" y="41.9" width="129.1" height="16" rx="2.2" fill="#1f57a8"/>
<text x="592.3" y="53.7" font-size="8.7" fill="#f2f6fc" font-weight="normal" textLength="116.3" lengthAdjust="spacingAndGlyphs"  >1.92627 (2,504.60%) 192,627</text>
<text x="13" y="34.8" font-size="9.1" fill="#1c1c1c" font-weight="normal" textLength="107.6" lengthAdjust="spacingAndGlyphs" stroke="#1c1c1c" stroke-width="0.22" >DOGEUSDT · 2W · Binance</text>
<text x="126" y="34.8" font-size="9.1" fill="#1c1c1c" font-weight="normal" textLength="6.2" lengthAdjust="spacingAndGlyphs" stroke="#1c1c1c" stroke-width="0.22" >O</text>
<text x="132.6" y="34.8" font-size="9.1" fill="#cd5a70" font-weight="normal" textLength="33.4" lengthAdjust="spacingAndGlyphs" stroke="#cd5a70" stroke-width="0.22" >0.09738</text>
<text x="171.2" y="34.8" font-size="9.1" fill="#1c1c1c" font-weight="normal" textLength="5.8" lengthAdjust="spacingAndGlyphs" stroke="#1c1c1c" stroke-width="0.22" >H</text>
<text x="177.3" y="34.8" font-size="9.1" fill="#cd5a70" font-weight="normal" textLength="33.3" lengthAdjust="spacingAndGlyphs" stroke="#cd5a70" stroke-width="0.22" >0.10449</text>
<text x="216.2" y="34.8" font-size="9.1" fill="#1c1c1c" font-weight="normal" textLength="4.3" lengthAdjust="spacingAndGlyphs" stroke="#1c1c1c" stroke-width="0.22" >L</text>
<text x="220.7" y="34.8" font-size="9.1" fill="#cd5a70" font-weight="normal" textLength="31.8" lengthAdjust="spacingAndGlyphs" stroke="#cd5a70" stroke-width="0.22" >0.09177</text>
<text x="258" y="34.8" font-size="9.1" fill="#1c1c1c" font-weight="normal" textLength="5.6" lengthAdjust="spacingAndGlyphs" stroke="#1c1c1c" stroke-width="0.22" >C</text>
<text x="263.9" y="34.8" font-size="9.1" fill="#cd5a70" font-weight="normal" textLength="34.1" lengthAdjust="spacingAndGlyphs" stroke="#cd5a70" stroke-width="0.22" >0.09404</text>
<text x="303.75" y="34.8" font-size="9.1" fill="#cd5a70" font-weight="normal" textLength="79.5" lengthAdjust="spacingAndGlyphs" stroke="#cd5a70" stroke-width="0.22" >−0.00334 (−3.43%)</text>
<text x="389.25" y="34.8" font-size="9.1" fill="#1c1c1c" font-weight="normal" textLength="12.2" lengthAdjust="spacingAndGlyphs" stroke="#1c1c1c" stroke-width="0.22" >Vol</text>
<text x="402" y="34.8" font-size="9.1" fill="#cd5a70" font-weight="normal" textLength="24.2" lengthAdjust="spacingAndGlyphs" stroke="#cd5a70" stroke-width="0.22" >5.95 B</text>
<path d="M7 503.2H1017" stroke="#707070" stroke-width="1.1" fill="none"/><path d="M962.5 19V523" stroke="#262626" stroke-width="1" fill="none"/>
<g clip-path="url(#pax)">
<text x="969.5" y="24.4" font-size="8.7" fill="#3c3c3c" font-weight="normal" textLength="34.0" lengthAdjust="spacingAndGlyphs" stroke="#3c3c3c" stroke-width="0.1" >4.20000</text>
<text x="969.5" y="49.0" font-size="8.7" fill="#3c3c3c" font-weight="normal" textLength="34.0" lengthAdjust="spacingAndGlyphs" stroke="#3c3c3c" stroke-width="0.1" >2.80000</text>
<text x="969.5" y="74.9" font-size="8.7" fill="#3c3c3c" font-weight="normal" textLength="34.0" lengthAdjust="spacingAndGlyphs" stroke="#3c3c3c" stroke-width="0.1" >1.80000</text>
<text x="969.5" y="99.1" font-size="8.7" fill="#3c3c3c" font-weight="normal" textLength="34.0" lengthAdjust="spacingAndGlyphs" stroke="#3c3c3c" stroke-width="0.1" >1.20000</text>
<text x="969.5" y="146.5" font-size="8.7" fill="#3c3c3c" font-weight="normal" textLength="34.0" lengthAdjust="spacingAndGlyphs" stroke="#3c3c3c" stroke-width="0.1" >0.55000</text>
<text x="969.5" y="172.7" font-size="8.7" fill="#3c3c3c" font-weight="normal" textLength="34.0" lengthAdjust="spacingAndGlyphs" stroke="#3c3c3c" stroke-width="0.1" >0.35000</text>
<text x="969.5" y="198.3" font-size="8.7" fill="#3c3c3c" font-weight="normal" textLength="34.0" lengthAdjust="spacingAndGlyphs" stroke="#3c3c3c" stroke-width="0.1" >0.23000</text>
<text x="969.5" y="223.4" font-size="8.7" fill="#3c3c3c" font-weight="normal" textLength="34.0" lengthAdjust="spacingAndGlyphs" stroke="#3c3c3c" stroke-width="0.1" >0.15000</text>
<text x="969.5" y="247.1" font-size="8.7" fill="#3c3c3c" font-weight="normal" textLength="34.0" lengthAdjust="spacingAndGlyphs" stroke="#3c3c3c" stroke-width="0.1" >0.10000</text>
<text x="969.5" y="273.7" font-size="8.7" fill="#3c3c3c" font-weight="normal" textLength="34.0" lengthAdjust="spacingAndGlyphs" stroke="#3c3c3c" stroke-width="0.1" >0.06500</text>
<text x="969.5" y="295.1" font-size="8.7" fill="#3c3c3c" font-weight="normal" textLength="34.0" lengthAdjust="spacingAndGlyphs" stroke="#3c3c3c" stroke-width="0.1" >0.04500</text>
<text x="969.5" y="317.5" font-size="8.7" fill="#3c3c3c" font-weight="normal" textLength="34.0" lengthAdjust="spacingAndGlyphs" stroke="#3c3c3c" stroke-width="0.1" >0.03100</text>
<text x="969.5" y="341.1" font-size="8.7" fill="#3c3c3c" font-weight="normal" textLength="34.0" lengthAdjust="spacingAndGlyphs" stroke="#3c3c3c" stroke-width="0.1" >0.02100</text>
<text x="969.5" y="365.1" font-size="8.7" fill="#3c3c3c" font-weight="normal" textLength="34.0" lengthAdjust="spacingAndGlyphs" stroke="#3c3c3c" stroke-width="0.1" >0.01400</text>
<text x="969.5" y="391.4" font-size="8.7" fill="#3c3c3c" font-weight="normal" textLength="34.0" lengthAdjust="spacingAndGlyphs" stroke="#3c3c3c" stroke-width="0.1" >0.00900</text>
<text x="969.5" y="415.5" font-size="8.7" fill="#3c3c3c" font-weight="normal" textLength="34.0" lengthAdjust="spacingAndGlyphs" stroke="#3c3c3c" stroke-width="0.1" >0.00600</text>
<text x="969.5" y="440.1" font-size="8.7" fill="#3c3c3c" font-weight="normal" textLength="34.0" lengthAdjust="spacingAndGlyphs" stroke="#3c3c3c" stroke-width="0.1" >0.00400</text>
<text x="969.5" y="465.1" font-size="8.7" fill="#3c3c3c" font-weight="normal" textLength="34.0" lengthAdjust="spacingAndGlyphs" stroke="#3c3c3c" stroke-width="0.1" >0.00260</text>
<text x="969.5" y="487.1" font-size="8.7" fill="#3c3c3c" font-weight="normal" textLength="34.0" lengthAdjust="spacingAndGlyphs" stroke="#3c3c3c" stroke-width="0.1" >0.00180</text>
</g>
<rect x="962.7" y="59.9" width="44" height="11" rx="1" fill="#0a0a0a"/>
<text x="969.5" y="68.5" font-size="8.7" fill="#ffffff" font-weight="normal" textLength="34.0" lengthAdjust="spacingAndGlyphs" stroke="#ffffff" stroke-width="0.08" >2.00000</text>
<rect x="962.7" y="117.7" width="44" height="11" rx="1" fill="#0a0a0a"/>
<text x="969.5" y="126.3" font-size="8.7" fill="#ffffff" font-weight="normal" textLength="34.0" lengthAdjust="spacingAndGlyphs" stroke="#ffffff" stroke-width="0.08" >0.75594</text>
<rect x="962.7" y="176.9" width="44" height="11" rx="1" fill="#0a0a0a"/>
<text x="969.5" y="185.5" font-size="8.7" fill="#ffffff" font-weight="normal" textLength="34.0" lengthAdjust="spacingAndGlyphs" stroke="#ffffff" stroke-width="0.08" >0.28185</text>
<rect x="962.7" y="242.2" width="44" height="11" rx="1" fill="#e0384f"/>
<text x="969.5" y="250.8" font-size="8.7" fill="#ffffff" font-weight="normal" textLength="34.0" lengthAdjust="spacingAndGlyphs" stroke="#ffffff" stroke-width="0.08" >0.09404</text>
<text x="30.7" y="516.5" font-size="9.2" fill="#333" font-weight="normal" textLength="11.6" lengthAdjust="spacingAndGlyphs" stroke="#333" stroke-width="0.22" >Jul</text>
<text x="67.9" y="516.5" font-size="9.2" fill="#1a1a1a" font-weight="bold" textLength="22.2" lengthAdjust="spacingAndGlyphs"  >2020</text>
<text x="115.7" y="516.5" font-size="9.2" fill="#333" font-weight="normal" textLength="11.6" lengthAdjust="spacingAndGlyphs" stroke="#333" stroke-width="0.22" >Jul</text>
<text x="152.1" y="516.5" font-size="9.2" fill="#1a1a1a" font-weight="bold" textLength="22.2" lengthAdjust="spacingAndGlyphs"  >2021</text>
<text x="200.0" y="516.5" font-size="9.2" fill="#333" font-weight="normal" textLength="11.6" lengthAdjust="spacingAndGlyphs" stroke="#333" stroke-width="0.22" >Jul</text>
<text x="237.2" y="516.5" font-size="9.2" fill="#1a1a1a" font-weight="bold" textLength="22.2" lengthAdjust="spacingAndGlyphs"  >2022</text>
<text x="284.7" y="516.5" font-size="9.2" fill="#333" font-weight="normal" textLength="11.6" lengthAdjust="spacingAndGlyphs" stroke="#333" stroke-width="0.22" >Jul</text>
<text x="321.8" y="516.5" font-size="9.2" fill="#1a1a1a" font-weight="bold" textLength="22.2" lengthAdjust="spacingAndGlyphs"  >2023</text>
<text x="369.6" y="516.5" font-size="9.2" fill="#333" font-weight="normal" textLength="11.6" lengthAdjust="spacingAndGlyphs" stroke="#333" stroke-width="0.22" >Jul</text>
<text x="406.4" y="516.5" font-size="9.2" fill="#1a1a1a" font-weight="bold" textLength="22.2" lengthAdjust="spacingAndGlyphs"  >2024</text>
<text x="453.9" y="516.5" font-size="9.2" fill="#333" font-weight="normal" textLength="11.6" lengthAdjust="spacingAndGlyphs" stroke="#333" stroke-width="0.22" >Jul</text>
<text x="494.4" y="516.5" font-size="9.2" fill="#1a1a1a" font-weight="bold" textLength="22.2" lengthAdjust="spacingAndGlyphs"  >2025</text>
<text x="541.9" y="516.5" font-size="9.2" fill="#333" font-weight="normal" textLength="11.6" lengthAdjust="spacingAndGlyphs" stroke="#333" stroke-width="0.22" >Jul</text>
<text x="579.1" y="516.5" font-size="9.2" fill="#1a1a1a" font-weight="bold" textLength="22.2" lengthAdjust="spacingAndGlyphs"  >2026</text>
<text x="626.4" y="516.5" font-size="9.2" fill="#333" font-weight="normal" textLength="11.6" lengthAdjust="spacingAndGlyphs" stroke="#333" stroke-width="0.22" >Jul</text>
<text x="663.7" y="516.5" font-size="9.2" fill="#1a1a1a" font-weight="bold" textLength="22.2" lengthAdjust="spacingAndGlyphs"  >2027</text>
<text x="711.5" y="516.5" font-size="9.2" fill="#333" font-weight="normal" textLength="11.6" lengthAdjust="spacingAndGlyphs" stroke="#333" stroke-width="0.22" >Jul</text>
<text x="748.3" y="516.5" font-size="9.2" fill="#1a1a1a" font-weight="bold" textLength="22.2" lengthAdjust="spacingAndGlyphs"  >2028</text>
<text x="795.8" y="516.5" font-size="9.2" fill="#333" font-weight="normal" textLength="11.6" lengthAdjust="spacingAndGlyphs" stroke="#333" stroke-width="0.22" >Jul</text>
<text x="833.0" y="516.5" font-size="9.2" fill="#1a1a1a" font-weight="bold" textLength="22.2" lengthAdjust="spacingAndGlyphs"  >2029</text>
<text x="880.8" y="516.5" font-size="9.2" fill="#333" font-weight="normal" textLength="11.6" lengthAdjust="spacingAndGlyphs" stroke="#333" stroke-width="0.22" >Jul</text>
<text x="921.0" y="516.5" font-size="9.2" fill="#1a1a1a" font-weight="bold" textLength="22.2" lengthAdjust="spacingAndGlyphs"  >2030</text>
<g id="logo">
<path d="M 889.93 430.35 A 13.6 13.6 0 1 0 889.93 441.85" fill="none" stroke="url(#gold)" stroke-width="3.9"/>
<rect x="875.7" y="418.6" width="1.4" height="3.6" fill="#c89a2c"/><rect x="878.3" y="418.6" width="1.4" height="3.6" fill="#c89a2c"/>
<rect x="875.7" y="450" width="1.4" height="3.6" fill="#c89a2c"/><rect x="878.3" y="450" width="1.4" height="3.6" fill="#c89a2c"/>
<path d="M 868.8 450 V 436.1 A 8.8 8.8 0 1 1 877.6 444.9 H 875.2" fill="none" stroke="url(#silver)" stroke-width="3.6"/>
<path d="M874.4 433.8v4.6M876.4 431.6v8M878.4 434v6M880.4 432.2v5.4M882.4 434.6v2.8" stroke="#c89a2c" stroke-width="0.9" fill="none"/>
</g>
<text x="837.2" y="468.8" font-size="15" font-weight="bold" textLength="79.5" lengthAdjust="spacingAndGlyphs"><tspan fill="url(#gold)">Crypto</tspan><tspan fill="url(#silver)">Patel</tspan></text>
<g id="tvlogo" fill="#e6e6e6">
<path d="M8.5 539H17.6V549.6H13.1V543.4H8.5Z"/>
<circle cx="20.9" cy="540.9" r="1.9"/>
<path d="M24.6 539H29.8L25.4 549.6H20.3Z"/>
</g>
<text x="35.8" y="549.6" font-size="14.4" fill="#e6e6e6" font-weight="bold" textLength="85.6" lengthAdjust="spacingAndGlyphs"  >TradingView</text>
</svg>
</body></html>
